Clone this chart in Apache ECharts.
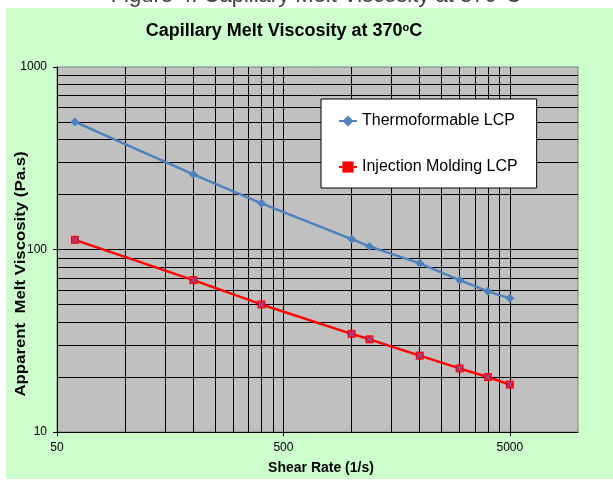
<!DOCTYPE html>
<html><head><meta charset="utf-8">
<script src="https://cdn.jsdelivr.net/npm/echarts@6/dist/echarts.min.js"></script>
<style>html,body{margin:0;padding:0;background:#fff}#c{width:613px;height:481px}</style>
</head><body><div id="c"></div>
<script>
const shearRates = [60, 200, 400, 1000, 1200, 2000, 3000, 4000, 5000];
const thermoformable = [500, 258, 179, 114, 104, 84, 68, 59, 54];
const injectionMolding = [113, 68, 50, 34.5, 32.2, 26.2, 22.3, 20.0, 18.2];
const seriesNames = ['Thermoformable LCP', 'Injection Molding LCP'];
const xTickLabels = [50, 500, 5000];
const yTickLabels = [10, 100, 1000];
const xGridValues = [100,150,200,250,300,350,400,450,500,1000,1500,2000,2500,3000,3500,4000,4500,5000];
const yGridValues = [20,30,40,50,60,70,80,90,100,200,300,400,500,600,700,800,900];

const FF = '"Liberation Sans", Arial, sans-serif';
const chart = echarts.init(document.getElementById('c'), null, {renderer: 'canvas'});
const pairs = (xs, ys) => xs.map((x, i) => [x, ys[i]]);
const xPath = 'path://M0,0L1.8,0L5,3.2L8.2,0L10,0L10,1.8L6.8,5L10,8.2L10,10L8.2,10L5,6.8L1.8,10L0,10L0,8.2L3.2,5L0,1.8Z';

chart.setOption({
  animation: false,
  backgroundColor: '#ffffff',
  graphic: [
    {type: 'text', z: -11, style: {text: 'Figure 4. Capillary Melt Viscosity at 370°C', x: 316, y: -4,
      font: '22px ' + FF, fill: '#404040', align: 'center', verticalAlign: 'middle'}},
    {type: 'rect', z: -10, shape: {x: 6, y: 8, width: 607, height: 471}, style: {fill: '#CCFFCC'}},
    {type: 'text', style: {text: '{a|Capillary Melt Viscosity at 370}{s|o}{a|C}', x: 284, y: 31,
      align: 'center', verticalAlign: 'middle',
      rich: {a: {fontSize: 18, fontWeight: 'bold', fontFamily: FF, fill: '#000'},
             s: {fontSize: 11, fontWeight: 'bold', fontFamily: FF, fill: '#000', verticalAlign: 'top'}}}},
    {type: 'text', x: 21, y: 274, rotation: Math.PI / 2, scaleX: 1.2,
      style: {text: 'Apparent  Melt Viscosity (Pa.s)', font: 'bold 14px ' + FF, fill: '#000', align: 'center', verticalAlign: 'middle'}},
    {type: 'text', style: {text: 'Shear Rate (1/s)', x: 321, y: 468, font: 'bold 14px ' + FF, fill: '#000', align: 'center', verticalAlign: 'middle'}}
  ],
  grid: {left: 57, right: 35, top: 67, bottom: 49, show: true, backgroundColor: '#C0C0C0', borderColor: '#808080', borderWidth: 1},
  legend: {
    data: seriesNames, orient: 'vertical', left: 321, top: 99, z: 10,
    padding: [14, 19, 13, 17], itemGap: 30, itemWidth: 18, itemHeight: 14,
    backgroundColor: '#fff', borderColor: '#000', borderWidth: 1, borderRadius: 0,
    textStyle: {fontSize: 16, fontFamily: FF, color: '#000'}
  },
  xAxis: {
    type: 'log', logBase: 10, min: 50, max: 10000,
    axisLine: {show: true, lineStyle: {color: '#000', width: 1}},
    axisTick: {show: true, length: 4, customValues: xTickLabels, lineStyle: {color: '#000'}},
    axisLabel: {customValues: xTickLabels, margin: 10, fontSize: 12, fontFamily: FF, color: '#000', formatter: v => String(v)},
    splitLine: {show: false}, minorTick: {show: false}, minorSplitLine: {show: false}
  },
  yAxis: {
    type: 'log', logBase: 10, min: 10, max: 1000,
    axisLine: {show: true, lineStyle: {color: '#000', width: 1}},
    axisTick: {show: true, length: 4, customValues: yTickLabels, lineStyle: {color: '#000'}},
    axisLabel: {customValues: yTickLabels, margin: 10, fontSize: 12, fontFamily: FF, color: '#000', formatter: v => String(v)},
    splitLine: {show: false}
  },
  series: [
    {type: 'line', data: [], z: 1, silent: true,
      markLine: {silent: true, z: 1, symbol: ['none', 'none'], label: {show: false}, animation: false,
        lineStyle: {color: '#000', width: 1, type: 'solid'},
        emphasis: {disabled: true},
        data: xGridValues.map(v => ({xAxis: v})).concat(yGridValues.map(v => ({yAxis: v})))}},
    {name: seriesNames[0], type: 'line', data: pairs(shearRates, thermoformable), z: 3,
      symbol: 'diamond', symbolSize: 9, showSymbol: true,
      lineStyle: {color: '#4F81BD', width: 2.5}, itemStyle: {color: '#4F81BD'}},
    {name: seriesNames[1], type: 'line', data: pairs(shearRates, injectionMolding), z: 3,
      symbol: 'rect', symbolSize: 8, showSymbol: true,
      lineStyle: {color: '#FF0000', width: 2.5}, itemStyle: {color: '#FF0000'}},
    {type: 'scatter', data: pairs(shearRates, injectionMolding), z: 4, silent: true,
      symbol: xPath, symbolSize: 6, itemStyle: {color: '#7060D8'}}
  ]
});
</script></body></html>
